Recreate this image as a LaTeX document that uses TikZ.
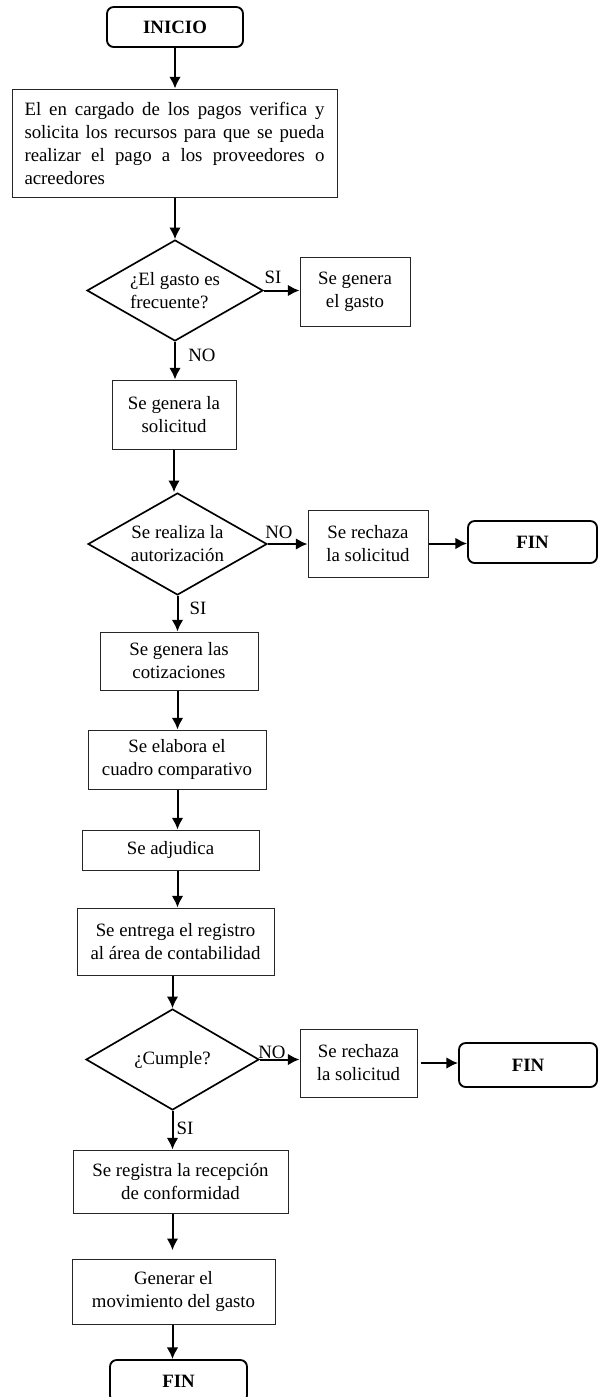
\documentclass[tikz,border=0pt]{standalone}
\usepackage{fontspec}
\setmainfont{Liberation Serif}
\usetikzlibrary{shapes.geometric,arrows.meta}
\def\px{0.6pt}

\begin{document}
\begin{tikzpicture}[x=0.6pt,y=-0.6pt,>={Latex[length=7pt,width=7pt]},
        every node/.style={font=\fontsize{11.3}{13.8}\selectfont},
        sz/.style 2 args={minimum width=#1*\px,minimum height=#2*\px},
        terminal/.style={draw,line width=1.1pt,rounded corners=4pt,inner sep=0pt,font=\fontsize{11.3}{13.8}\selectfont\bfseries},
        proc/.style={draw=black!85,line width=0.6pt,align=center,inner sep=0pt},
        decision/.style={draw,diamond,line width=1pt,align=center,inner sep=0pt,shape aspect=1.75},
        flow/.style={->,line width=1.2pt}]
    \useasboundingbox (0,0) rectangle (599,1397);

    \node[terminal,sz={136}{40}] (inicio) at (175,27) {INICIO};
    \node[proc,sz={325}{108},text width=180pt,align=justify] (verifica) at (174.5,143)
        {El en cargado de los pagos verifica y\linebreak solicita los recursos para que se pueda\linebreak realizar el pago a los proveedores o\linebreak acreedores};
    \node[decision,sz={176}{101},align=left] (frecuente) at (175,290.5) {¿El gasto es\\frecuente?};
    \node (si1) at (273,277) {SI};
    \node[proc,sz={110}{69}] (genGasto) at (355,292) {Se genera\\el gasto};
    \node (no1) at (202,355) {NO};
    \node[proc,sz={124}{69}] (solicitud) at (174,414.5) {Se genera la\\solicitud};
    \node[decision,sz={179}{102}] (autoriza) at (177.5,544) {Se realiza la\\autorización};
    \node (no2) at (279,532) {NO};
    \node[proc,sz={120}{67}] (rechazoA) at (368,543.5) {Se rechaza\\la solicitud};
    \node[terminal,sz={129}{42}] (finA) at (532.5,542) {FIN};
    \node (si2) at (198,608) {SI};
    \node[proc,sz={158}{58}] (cotiza) at (179,661) {Se genera las\\cotizaciones};
    \node[proc,sz={178}{59}] (cuadro) at (177,759.5) {Se elabora el\\cuadro comparativo};
    \node[proc,sz={177}{40}] (adjudica) at (170.5,850) {Se adjudica};
    \node[proc,sz={197}{67}] (entrega) at (175.5,941.5) {Se entrega el registro\\al área de contabilidad};
    \node[decision,sz={173}{101}] (cumple) at (172.5,1059.5) {¿Cumple?};
    \node (no3) at (272,1052) {NO};
    \node[proc,sz={117}{68}] (rechazoB) at (358.5,1063) {Se rechaza\\la solicitud};
    \node[terminal,sz={138}{44}] (finB) at (528,1065) {FIN};
    \node (si3) at (185,1128) {SI};
    \node[proc,sz={215}{63}] (recepcion) at (180.5,1181.5) {Se registra la recepción\\de conformidad};
    \node[proc,sz={203}{65}] (movimiento) at (173.5,1291.5) {Generar el\\movimiento del gasto};
    \node[terminal,sz={137}{42}] (finC) at (178.5,1381) {FIN};

    \draw[flow] (inicio.south) -- (inicio.south |- verifica.north);
    \draw[flow] (verifica.south -| frecuente.north) -- (frecuente.north);
    \draw[flow] (frecuente.east) -- (frecuente.east -| genGasto.west);
    \draw[flow] (frecuente.south) -- (frecuente.south |- solicitud.north);
    \draw[flow] (solicitud.south) -- (solicitud.south |- autoriza.north);
    \draw[flow] (autoriza.east) -- (autoriza.east -| rechazoA.west);
    \draw[flow] (rechazoA.east) -- (rechazoA.east -| finA.west);
    \draw[flow] (autoriza.south) -- (autoriza.south |- cotiza.north);
    \draw[flow] (cotiza.south -| autoriza.south) -- (autoriza.south |- cuadro.north);
    \draw[flow] (cuadro.south -| autoriza.south) -- (autoriza.south |- adjudica.north);
    \draw[flow] (adjudica.south -| autoriza.south) -- (autoriza.south |- entrega.north);
    \draw[flow] (entrega.south -| cumple.north) -- (cumple.north);
    \draw[flow] (cumple.east) -- (cumple.east -| rechazoB.west);
    \draw[flow] ([xshift=2pt]rechazoB.east) -- (rechazoB.east -| finB.west);
    \draw[flow] (cumple.south) -- (cumple.south |- recepcion.north);
    \draw[flow,shorten >=5pt] (recepcion.south -| cumple.south) -- (cumple.south |- movimiento.north);
    \draw[flow] (movimiento.south -| cumple.south) -- (cumple.south |- finC.north);
\end{tikzpicture}
\end{document}
